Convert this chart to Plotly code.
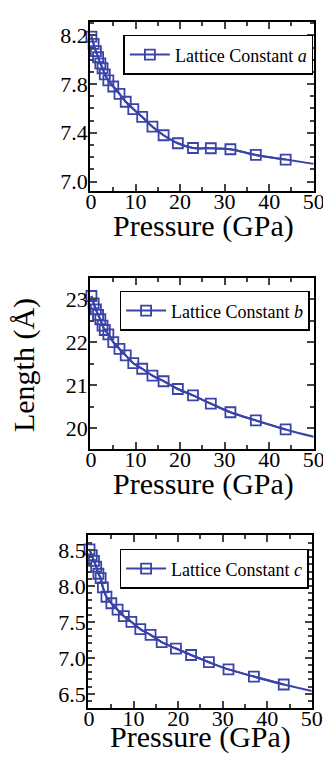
import plotly.graph_objects as go

# ---- data ----
pressure = [0.1, 0.6, 1.1, 1.6, 2.1, 2.6, 3.1, 3.9, 5.0, 6.4, 7.8, 9.5, 11.5, 13.8, 16.3, 19.5, 22.9, 26.9, 31.3, 37.0, 43.7]
lat_a = [8.19, 8.13, 8.07, 8.02, 7.97, 7.93, 7.88, 7.83, 7.78, 7.72, 7.655, 7.595, 7.53, 7.45, 7.38, 7.314, 7.275, 7.273, 7.265, 7.218, 7.18]
lat_b = [23.07, 22.9, 22.76, 22.63, 22.53, 22.38, 22.28, 22.18, 22.0, 21.84, 21.69, 21.51, 21.38, 21.22, 21.09, 20.91, 20.76, 20.57, 20.37, 20.18, 19.97]
lat_c = [8.51, 8.43, 8.35, 8.27, 8.17, 8.11, 7.98, 7.85, 7.76, 7.67, 7.58, 7.5, 7.40, 7.32, 7.22, 7.13, 7.04, 6.94, 6.84, 6.74, 6.63]
fit_end_p = 50
fit_end = {"a": 7.145, "b": 19.8, "c": 6.54}
names = {"a": "Lattice Constant <i>a</i>", "b": "Lattice Constant <i>b</i>", "c": "Lattice Constant <i>c</i>"}
x_title = "Pressure (GPa)"
y_title = "Length (Å)"

W, H = 331, 758
BLUE = "#3a43a8"
FONT = "Liberation Serif"

fig = go.Figure()

series = [("a", lat_a, "x", "y", "legend"),
          ("b", lat_b, "x2", "y2", "legend2"),
          ("c", lat_c, "x3", "y3", "legend3")]
for key, vals, xa, ya, lg in series:
    fig.add_trace(go.Scatter(x=pressure + [fit_end_p], y=vals + [fit_end[key]],
                             mode="lines", line=dict(color=BLUE, width=2, shape="spline"),
                             xaxis=xa, yaxis=ya, showlegend=False, cliponaxis=True))
    fig.add_trace(go.Scatter(x=pressure, y=vals, mode="lines+markers", name=names[key],
                             line=dict(color=BLUE, width=2, shape="spline"),
                             marker=dict(symbol="square-open", size=10, color=BLUE,
                                         line=dict(width=1.8, color=BLUE)),
                             xaxis=xa, yaxis=ya, legend=lg, cliponaxis=False))

def px_x(v):
    return v / W

def px_y(v):
    return 1 - v / H

tickfont = dict(family=FONT, size=22, color="black")
titlefont = dict(family=FONT, size=30, color="black")

def xaxis(x0, x1, anchor):
    return dict(domain=[px_x(x0), px_x(x1)], anchor=anchor, range=[-0.2, 50],
                tick0=0, dtick=10, ticks="inside", ticklen=7, tickwidth=1.5,
                minor=dict(dtick=5, ticks="inside", ticklen=4, tickwidth=1.5),
                showline=True, linewidth=2, linecolor="black", mirror="ticks",
                showgrid=False, zeroline=False, tickfont=tickfont,
                ticklabelstandoff=-11)

def yaxis(y0, y1, anchor, rng, dtick, mdtick, tick0, fmt):
    return dict(domain=[px_y(y1), px_y(y0)], anchor=anchor, range=rng,
                tick0=tick0, dtick=dtick, ticks="inside", ticklen=7, tickwidth=1.5,
                minor=dict(dtick=mdtick, ticks="inside", ticklen=4, tickwidth=1.5),
                showline=True, linewidth=2, linecolor="black", mirror="ticks",
                showgrid=False, zeroline=False, tickfont=tickfont, tickformat=fmt,
                ticklabelstandoff=-4)

legend_common = dict(font=dict(family=FONT, size=18, color="black"),
                     bordercolor="black", borderwidth=1.5, bgcolor="white",
                     xanchor="left", yanchor="top", itemwidth=40,
                     tracegroupgap=0)

annots = [dict(text=y_title, textangle=-90, x=px_x(11), y=px_y(358),
               xref="paper", yref="paper", showarrow=False,
               font=titlefont, xanchor="center", yanchor="middle")]
for cx, cy in [(200, 219), (200, 478), (197, 732)]:
    annots.append(dict(text=x_title, x=px_x(cx), y=px_y(cy), xref="paper", yref="paper",
                       showarrow=False, font=titlefont, xanchor="center", yanchor="middle"))

fig.update_layout(
    width=W, height=H, margin=dict(l=0, r=0, t=0, b=0),
    paper_bgcolor="white", plot_bgcolor="white",
    font=dict(family=FONT, color="black"),
    xaxis=xaxis(81, 316, "y"),
    yaxis=yaxis(14, 184, "x", [6.92, 8.31], 0.4, 0.1, 7.0, ".1f"),
    xaxis2=xaxis(81, 316, "y2"),
    yaxis2=yaxis(271, 443, "x2", [19.51, 23.49], 1, 0.5, 20, "d"),
    xaxis3=xaxis(79, 314, "y3"),
    yaxis3=yaxis(529, 703, "x3", [6.30, 8.71], 0.5, 0.1, 6.5, ".1f"),
    legend=dict(x=px_x(116), y=px_y(27), **legend_common),
    legend2=dict(x=px_x(112), y=px_y(284), **legend_common),
    legend3=dict(x=px_x(112), y=px_y(543), **legend_common),
    annotations=annots,
)

fig.write_html("out.html")
